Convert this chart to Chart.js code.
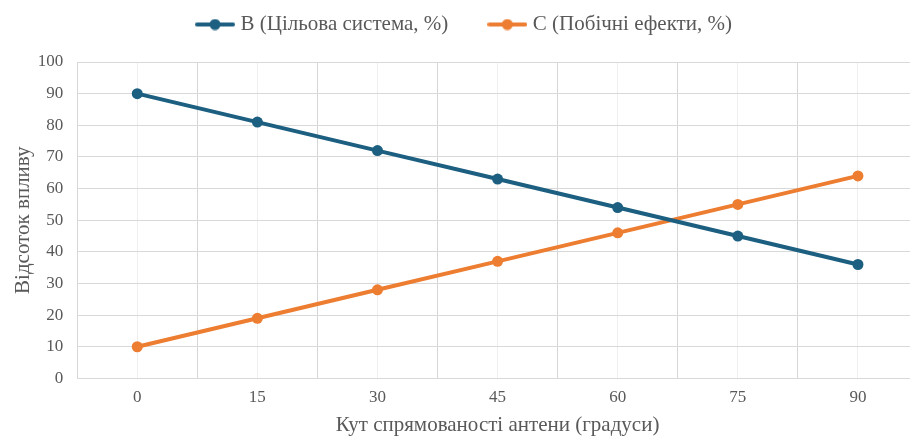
<!DOCTYPE html>
<html>
<head>
<meta charset="utf-8">
<script src="https://cdn.jsdelivr.net/npm/chart.js@4/dist/chart.umd.min.js"></script>
<style>
  html, body { margin: 0; padding: 0; background: #ffffff; overflow: hidden; }
  #wrap { width: 930px; height: 438px; position: relative; }
</style>
</head>
<body>
<div id="wrap"><canvas id="c"></canvas></div>
<script>
const categories = ['0', '15', '30', '45', '60', '75', '90'];
const seriesB = [90, 81, 72, 63, 54, 45, 36];
const seriesC = [10, 19, 28, 37, 46, 55, 64];
const yTicks = [0, 10, 20, 30, 40, 50, 60, 70, 80, 90, 100];
const seriesNames = ['B (Цільова система, %)', 'C (Побічні ефекти, %)'];
const xTitle = 'Кут спрямованості антени (градуси)';
const yTitle = 'Відсоток впливу';

const BLUE = '#1c5f80';
const ORANGE = '#ed7d31';
const TEXT = '#595959';
const FONT = "'Liberation Serif', 'Times New Roman', serif";

function legendIcon(color) {
  const c = document.createElement('canvas');
  c.width = 40; c.height = 12;
  const g = c.getContext('2d');
  g.strokeStyle = color; g.lineWidth = 4; g.lineCap = 'round';
  g.beginPath(); g.moveTo(2, 6); g.lineTo(38, 6); g.stroke();
  g.fillStyle = color;
  g.beginPath(); g.arc(20, 6, 5.5, 0, Math.PI * 2); g.fill();
  return c;
}

const legendSpacer = {
  id: 'legendSpacer',
  beforeInit(chart) {
    const fit = chart.legend.fit;
    chart.legend.fit = function () {
      fit.bind(chart.legend)();
      this.height += 17;
    };
  },
  afterLayout(chart) {
    chart.legend.left += 7;
    chart.legend.right += 7;
  }
};

new Chart(document.getElementById('c'), {
  type: 'line',
  plugins: [legendSpacer],
  data: {
    labels: categories,
    datasets: [
      { label: seriesNames[0], data: seriesB, borderColor: BLUE, backgroundColor: BLUE,
        borderWidth: 4, pointRadius: 5.5, pointHoverRadius: 5.5, pointBackgroundColor: BLUE,
        pointBorderWidth: 0, tension: 0, xAxisID: 'x' },
      { label: seriesNames[1], data: seriesC, borderColor: ORANGE, backgroundColor: ORANGE,
        borderWidth: 4, pointRadius: 5.5, pointHoverRadius: 5.5, pointBackgroundColor: ORANGE,
        pointBorderWidth: 0, tension: 0, xAxisID: 'x' }
    ]
  },
  options: {
    responsive: true,
    maintainAspectRatio: false,
    animation: false,
    layout: { padding: { top: -30, right: 12, left: 0, bottom: 0 } },
    plugins: {
      tooltip: { enabled: false },
      legend: {
        position: 'top',
        labels: {
          color: TEXT,
          font: { family: FONT, size: 21 },
          usePointStyle: true,
          pointStyleWidth: 30,
          boxHeight: 12,
          padding: 44,
          generateLabels: (chart) => chart.data.datasets.map((ds, i) => ({
            text: ds.label,
            fontColor: TEXT,
            pointStyle: legendIcon(ds.borderColor),
            datasetIndex: i,
            hidden: false,
            lineWidth: 0,
            strokeStyle: 'transparent',
            fillStyle: ds.borderColor
          }))
        }
      }
    },
    scales: {
      x: {
        type: 'category',
        offset: true,
        grid: { offset: true, color: '#d6d6d6', lineWidth: 1, drawTicks: false },
        border: { display: true, color: '#d9d9d9' },
        ticks: { color: TEXT, font: { family: FONT, size: 17 }, padding: 9 },
        title: { display: true, text: xTitle, color: TEXT, font: { family: FONT, size: 21 }, padding: { top: -4, bottom: 0 } }
      },
      x2: {
        type: 'category',
        labels: categories,
        position: 'bottom',
        offset: true,
        grid: { offset: false, color: '#efefef', lineWidth: 1, drawTicks: false },
        border: { display: false },
        ticks: { display: false }
      },
      y: {
        min: 0,
        max: 100,
        afterBuildTicks: (axis) => { axis.ticks = yTicks.map(v => ({ value: v })); },
        grid: { color: '#d9d9d9', lineWidth: 1, drawTicks: false },
        border: { display: false },
        ticks: { color: TEXT, font: { family: FONT, size: 17 }, padding: 14 },
        title: { display: true, text: yTitle, color: TEXT, font: { family: FONT, size: 21 }, padding: { top: 11, bottom: -12.5 } }
      }
    }
  }
});
</script>
</body>
</html>
